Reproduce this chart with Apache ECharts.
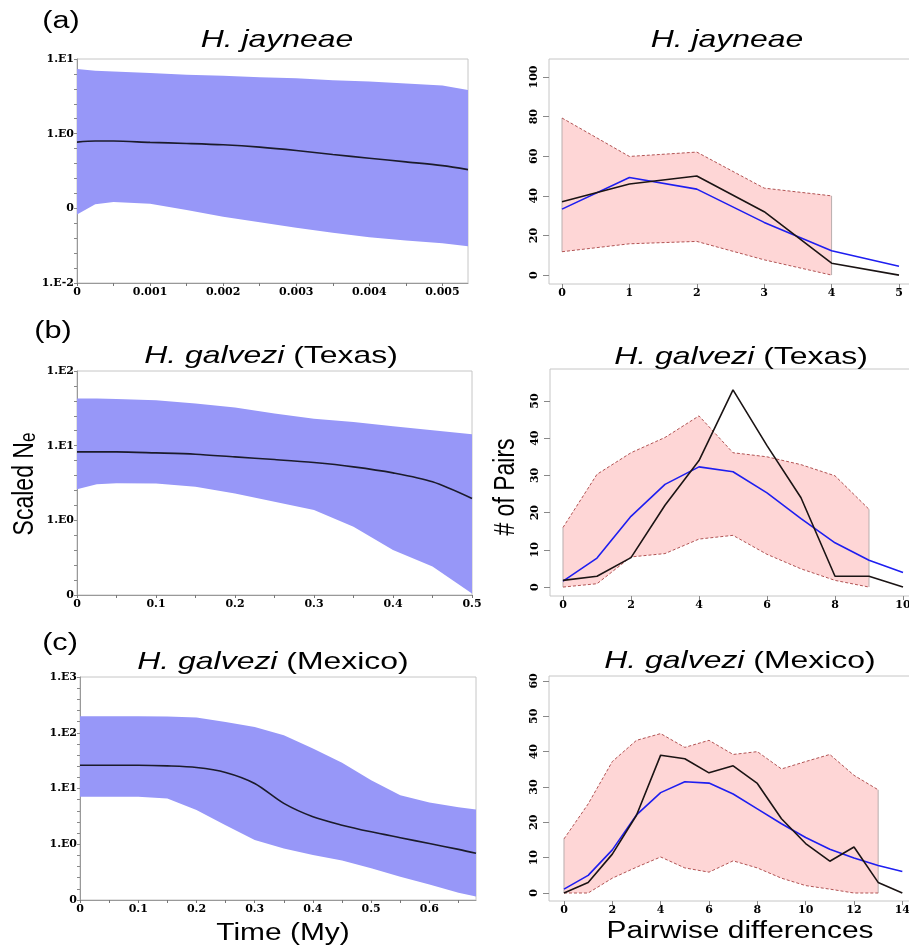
<!DOCTYPE html>
<html><head><meta charset="utf-8">
<script src="https://cdn.jsdelivr.net/npm/echarts@6/dist/echarts.min.js"></script>
<style>html,body{margin:0;padding:0;background:#fff}#c{width:909px;height:947px}</style>
</head><body><div id="c"></div>
<script>
// ---------- Bayesian skyline data (left column) ----------
const aTime   = [0, 0.00025, 0.0005, 0.001, 0.0015, 0.002, 0.0025, 0.003, 0.0035, 0.004, 0.0045, 0.005, 0.00535];
const aUpper  = [7.33, 6.96, 6.8, 6.47, 6.14, 5.95, 5.71, 5.54, 5.2, 4.99, 4.69, 4.41, 3.85];
const aMedian = [0.771, 0.796, 0.796, 0.764, 0.74, 0.71, 0.661, 0.596, 0.526, 0.469, 0.419, 0.373, 0.33];
const aLower  = [0.083, 0.113, 0.122, 0.115, 0.095, 0.077, 0.065, 0.055, 0.047, 0.041, 0.037, 0.034, 0.031];

const bTime   = [0, 0.025, 0.05, 0.1, 0.15, 0.2, 0.25, 0.3, 0.35, 0.4, 0.45, 0.5];
const bUpper  = [42.7, 42.7, 42.3, 40.5, 36.6, 32.4, 26.9, 23.0, 20.8, 18.2, 16.1, 14.2];
const bMedian = [8.26, 8.26, 8.26, 8.0, 7.68, 7.07, 6.52, 5.94, 5.2, 4.32, 3.28, 1.96];
const bLower  = [2.61, 3.05, 3.14, 3.11, 2.81, 2.29, 1.77, 1.37, 0.82, 0.40, 0.24, 0.105];

const cTime   = [0, 0.05, 0.1, 0.15, 0.2, 0.25, 0.3, 0.35, 0.4, 0.45, 0.5, 0.55, 0.6, 0.65, 0.68];
const cUpper  = [198, 198, 198, 196, 187, 156, 127, 90, 52, 29, 14.1, 7.6, 5.6, 4.6, 4.2];
const cMedian = [26.2, 26.2, 26.2, 25.5, 23.8, 19.4, 12.3, 5.4, 3.11, 2.2, 1.67, 1.31, 1.03, 0.81, 0.69];
const cLower  = [7.1, 7.1, 7.1, 6.6, 4.1, 2.2, 1.19, 0.84, 0.64, 0.51, 0.37, 0.26, 0.19, 0.135, 0.115];

// ---------- mismatch distributions (right column) ----------
const aDiff = [0, 1, 2, 3, 4, 5];
const aObs  = [37, 46, 50, 32, 6, 0];
const aExp  = [33.3, 49.3, 43.4, 26.6, 12.3, 4.5];
const aHi   = [79.3, 59.9, 62.1, 43.9, 40];
const aLo   = [11.8, 15.8, 17, 7.7, 0];

const bDiff = [0, 1, 2, 3, 4, 5, 6, 7, 8, 9, 10];
const bObs  = [1.8, 2.9, 7.9, 22, 34, 53, 38, 24, 2.9, 2.9, 0];
const bExp  = [1.6, 7.8, 19, 27.6, 32.3, 31, 25.3, 18.4, 11.9, 7.2, 3.9];
const bHi   = [16, 30.3, 36.1, 40.2, 46, 36.1, 35, 32.9, 29.9, 20.9];
const bLo   = [0, 0.9, 8.1, 9, 12.9, 13.9, 8.8, 4.9, 1.8, 0];

const cDiff = [0, 1, 2, 3, 4, 5, 6, 7, 8, 9, 10, 11, 12, 13, 14];
const cObs  = [0, 3, 11, 22, 39, 38, 34, 36, 31, 21, 14, 9, 13, 3, 0];
const cExp  = [1.1, 5, 12.2, 22.1, 28.4, 31.5, 31.1, 28, 23.8, 19.6, 15.7, 12.4, 9.9, 7.8, 6.1];
const cHi   = [15.3, 25.2, 37.2, 43.2, 45.1, 41.2, 43.2, 39.2, 40, 35.1, 37.2, 39.2, 33.3, 29.2];
const cLo   = [0, 0, 4.2, 7.3, 10.2, 7.1, 5.9, 9.1, 7.1, 4.2, 2.1, 1.1, 0, 0];

// ---------- tick labels ----------
const aTimeTicks = [0, 0.001, 0.002, 0.003, 0.004, 0.005];
const aTimeMinor = [0.0005, 0.0015, 0.0025, 0.0035, 0.0045];
const bTimeTicks = [0, 0.1, 0.2, 0.3, 0.4, 0.5];
const bTimeMinor = [0.05, 0.15, 0.25, 0.35, 0.45];
const cTimeTicks = [0, 0.1, 0.2, 0.3, 0.4, 0.5, 0.6];
const cTimeMinor = [0.05, 0.15, 0.25, 0.35, 0.45, 0.55, 0.65];
const aNeTicks = [0.01, 0.1, 1, 10];
const bNeTicks = [0.1, 1, 10, 100];
const cNeTicks = [0.1, 1, 10, 100, 1000];
const aDiffTicks = [0, 1, 2, 3, 4, 5];
const bDiffTicks = [0, 2, 4, 6, 8, 10];
const cDiffTicks = [0, 2, 4, 6, 8, 10, 12, 14];
const aPairTicks = [0, 20, 40, 60, 80, 100];
const bPairTicks = [0, 10, 20, 30, 40, 50];
const cPairTicks = [0, 10, 20, 30, 40, 50, 60];

const chart = echarts.init(document.getElementById('c'), null, {renderer: 'canvas'});

const LBL = {fontFamily: 'DejaVu Serif', fontWeight: 'bold', fontSize: 11, color: '#000'};
const BAND_BLUE = '#9797f8';
const PINK = '#fed6d6';
const grids = [], xAxes = [], yAxes = [], series = [];

function logFmt(v) {
  const e = Math.round(Math.log10(v));
  return e === -1 ? '0' : '1.E' + e;
}
// minor log ticks: five evenly spaced (in log space) marks per decade
function logMinor(decades) {
  const out = [];
  for (let k = 0; k < decades.length - 1; k++)
    for (let j = 1; j < 5; j++) out.push(decades[k] * Math.pow(10, j / 5));
  return out;
}
function gridOf(box) {
  return Object.assign({show: true, borderColor: '#c6c6c6', borderWidth: 1,
    containLabel: false, outerBoundsMode: 'none'}, box);
}

function leftPanel(box, xmax, ticks, minor, yTicks, t, up, med, lo) {
  const i = grids.length;
  grids.push(gridOf(box));
  xAxes.push({gridIndex: i, type: 'value', min: 0, max: xmax,
    axisLine: {show: true, onZero: false, lineStyle: {color: '#999', width: 1}},
    axisTick: {show: true, length: 3, customValues: ticks.concat(minor), lineStyle: {color: '#777'}},
    axisLabel: Object.assign({customValues: ticks, formatter: v => String(v), margin: 4}, LBL),
    splitLine: {show: false}});
  yAxes.push({gridIndex: i, type: 'log', logBase: 10, min: yTicks[0], max: yTicks[yTicks.length - 1],
    axisLine: {show: true, onZero: false, lineStyle: {color: '#999', width: 1}},
    axisTick: {show: true, length: 3, customValues: yTicks.concat(logMinor(yTicks)), lineStyle: {color: '#888'}},
    axisLabel: Object.assign({customValues: yTicks, formatter: logFmt, margin: 3}, LBL),
    splitLine: {show: false}, minorSplitLine: {show: false}});
  series.push(bandSeries(i, t, lo, up, BAND_BLUE));
  series.push({type: 'line', xAxisIndex: i, yAxisIndex: i, data: t.map((x, k) => [x, med[k]]),
    showSymbol: false, smooth: 0.3, silent: true, z: 5,
    lineStyle: {color: '#1b1b2b', width: 1.6}});
}

function bandSeries(i, xs, lo, hi, color) {
  return {type: 'custom', xAxisIndex: i, yAxisIndex: i, silent: true, z: 1,
    data: [[xs[0], hi[0]]],
    renderItem: function (params, api) {
      const pts = [];
      for (let k = 0; k < xs.length; k++) pts.push(api.coord([xs[k], hi[k]]));
      for (let k = xs.length - 1; k >= 0; k--) pts.push(api.coord([xs[k], lo[k]]));
      return {type: 'polygon', shape: {points: pts}, style: {fill: color, stroke: null}};
    }};
}

function rightPanel(box, xmin, xmax, xticks, ymin, ymax, yticks, diff, obs, exp, hi, lo) {
  const i = grids.length;
  grids.push(gridOf(box));
  xAxes.push({gridIndex: i, type: 'value', min: xmin, max: xmax,
    axisLine: {show: false, onZero: false},
    axisTick: {show: true, length: 4, customValues: xticks, lineStyle: {color: '#888'}},
    axisLabel: Object.assign({customValues: xticks, margin: 4}, LBL),
    splitLine: {show: false}});
  yAxes.push({gridIndex: i, type: 'value', min: ymin, max: ymax,
    axisLine: {show: false, onZero: false},
    axisTick: {show: true, length: 6, customValues: yticks, lineStyle: {color: '#888'}},
    axisLabel: Object.assign({customValues: yticks, rotate: 90, margin: 9}, LBL),
    splitLine: {show: false}});
  const bx = diff.slice(0, hi.length);
  series.push(bandSeries(i, bx, lo, hi, PINK));
  const n = hi.length - 1;
  [0, n].forEach(k => {
    series.push({type: 'line', xAxisIndex: i, yAxisIndex: i, silent: true, z: 2, showSymbol: false,
      data: [[bx[k], lo[k]], [bx[k], hi[k]]], lineStyle: {color: '#b9aeae', width: 1}});
  });
  [hi, lo].forEach(arr => {
    series.push({type: 'line', xAxisIndex: i, yAxisIndex: i, silent: true, z: 3, showSymbol: false,
      data: bx.map((x, k) => [x, arr[k]]), lineStyle: {color: '#b25454', width: 1, type: [3, 2]}});
  });
  series.push({type: 'line', xAxisIndex: i, yAxisIndex: i, silent: true, z: 4, showSymbol: false,
    data: diff.map((x, k) => [x, exp[k]]), lineStyle: {color: '#1e1ef0', width: 1.6}});
  series.push({type: 'line', xAxisIndex: i, yAxisIndex: i, silent: true, z: 5, showSymbol: false,
    data: diff.map((x, k) => [x, obs[k]]), lineStyle: {color: '#1b1414', width: 1.6}});
}

leftPanel({left: 77, top: 59, width: 391, height: 224}, 0.00535, aTimeTicks, aTimeMinor, aNeTicks, aTime, aUpper, aMedian, aLower);
leftPanel({left: 77, top: 371, width: 395, height: 224}, 0.5, bTimeTicks, bTimeMinor, bNeTicks, bTime, bUpper, bMedian, bLower);
leftPanel({left: 80, top: 677, width: 396, height: 223}, 0.68, cTimeTicks, cTimeMinor, cNeTicks, cTime, cUpper, cMedian, cLower);

rightPanel({left: 549, top: 59, width: 370, height: 225}, -0.193, 5.297, aDiffTicks, -4.5, 109.1, aPairTicks, aDiff, aObs, aExp, aHi, aLo);
rightPanel({left: 550, top: 369, width: 370, height: 227}, -0.382, 10.5, bDiffTicks, -2.4, 58.6, bPairTicks, bDiff, bObs, bExp, bHi, bLo);
rightPanel({left: 549, top: 676, width: 370, height: 225}, -0.62, 14.69, cDiffTicks, -2.26, 61.4, cPairTicks, cDiff, cObs, cExp, cHi, cLo);

// ---------- texts ----------
const SANS = 'Liberation Sans, Arial, sans-serif';
function T(x, y, text, size, extra) {
  const rich = {i: {fontStyle: 'italic', fontSize: size, fontFamily: SANS, fill: '#000'},
                n: {fontSize: size, fontFamily: SANS, fill: '#000'},
                s: {fontSize: Math.round(size * 0.72), fontFamily: SANS, fill: '#000', verticalAlign: 'bottom'}};
  return Object.assign({type: 'text', x: x, y: y, scaleX: 1.33, silent: true, z: 10,
    style: {text: text, rich: rich, fontSize: size, fontFamily: SANS, fill: '#000',
      align: 'center', verticalAlign: 'middle', textAlign: 'center', textVerticalAlign: 'middle'}}, extra || {});
}
const graphics = [
  T(61, 22, '{n|(a)}', 23),
  T(53, 332, '{n|(b)}', 23),
  T(60, 644, '{n|(c)}', 23),
  T(277, 40, '{i|H. jayneae}', 24),
  T(727, 40, '{i|H. jayneae}', 24),
  T(271, 356, '{i|H. galvezi} {n|(Texas)}', 24),
  T(741, 357, '{i|H. galvezi} {n|(Texas)}', 24),
  T(273, 662, '{i|H. galvezi} {n|(Mexico)}', 24),
  T(740, 661, '{i|H. galvezi} {n|(Mexico)}', 24),
  T(283, 934, '{n|Time (My)}', 23, {scaleX: 1.3}),
  T(740, 932, '{n|Pairwise differences}', 23, {scaleX: 1.3}),
  T(25, 484, '{n|Scaled N}{s|e}', 23, {scaleX: 1, scaleY: 1.3, rotation: Math.PI / 2}),
  T(506, 487, '{n|# of Pairs}', 23, {scaleX: 1, scaleY: 1.3, rotation: Math.PI / 2})
];

chart.setOption({
  animation: false,
  backgroundColor: '#fff',
  grid: grids, xAxis: xAxes, yAxis: yAxes, series: series,
  graphic: {elements: graphics}
});
</script></body></html>
